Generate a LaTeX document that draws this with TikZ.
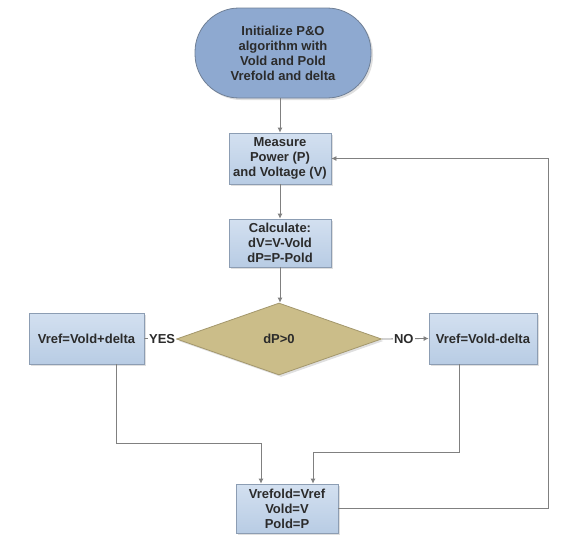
\documentclass[tikz,border=0pt]{standalone}
\usepackage{fontspec}
\setmainfont{Liberation Sans}
\usetikzlibrary{shapes.geometric,arrows.meta,shadows}
\definecolor{boxtop}{HTML}{D3E0F0}
\definecolor{boxbot}{HTML}{B8CCE4}
\definecolor{boxline}{HTML}{8C9DB3}
\definecolor{termfill}{HTML}{8EA9D0}
\definecolor{termline}{HTML}{6F7F95}
\definecolor{decfill}{HTML}{CBBD89}
\definecolor{decline}{HTML}{A3976C}
\definecolor{conn}{HTML}{808080}
\definecolor{txt}{HTML}{2B2B2B}
\tikzset{
  base/.style={font=\fontsize{13}{15}\selectfont\bfseries, text=txt, align=center, inner sep=2pt,
     drop shadow={shadow xshift=2pt, shadow yshift=-2pt, opacity=0.25}},
  procbox/.style={base, rectangle, draw=boxline, line width=0.8pt, top color=boxtop, bottom color=boxbot},
  termbox/.style={base, rectangle, rounded corners=44pt, draw=termline, line width=0.8pt, fill=termfill},
  decbox/.style={base, diamond, draw=decline, line width=0.8pt, fill=decfill, inner sep=0pt},
  arr/.style={draw=conn, line width=0.8pt, -{Latex[length=5pt,width=5pt]}},
  plain/.style={draw=conn, line width=0.8pt},
  lbl/.style={font=\fontsize{13}{15}\selectfont\bfseries, text=txt, fill=white, inner sep=1pt}
}
\begin{document}
\begin{tikzpicture}[x=1pt,y=-1pt]
\useasboundingbox (0,0) rectangle (579,546);
\node[termbox, minimum width=176pt, minimum height=90pt] (init) at (283,53)
  {Initialize P\&O\\algorithm with\\Vold and Pold\\Vrefold and delta};
\node[procbox, minimum width=102pt, minimum height=51pt] (meas) at (280,158.5)
  {Measure\\Power (P)\\and Voltage (V)};
\node[procbox, minimum width=102pt, minimum height=48pt] (calc) at (280,243)
  {Calculate:\\dV=V-Vold\\dP=P-Pold};
\node[decbox, minimum width=205pt, minimum height=72pt] (dec) at (279,339) {dP>0};
\node[procbox, minimum width=115pt, minimum height=51pt] (left) at (86.5,338.5) {Vref=Vold+delta};
\node[procbox, minimum width=108pt, minimum height=51pt] (right) at (483,338.5) {Vref=Vold-delta};
\node[procbox, minimum width=102pt, minimum height=49pt] (fin) at (287,508.5)
  {Vrefold=Vref\\Vold=V\\Pold=P};
\coordinate (fb) at (548,158.5);

\draw[arr] (meas.north |- init.south) -- (meas.north);
\draw[arr] (meas) -- (calc);
\draw[arr] (calc.south) -- (calc.south |- dec.north);
\draw[plain] (dec.west) -- node[lbl, pos=0.44] {YES} (left.east);
\draw[arr] (dec.east) -- node[lbl, pos=0.47] {NO} (right.west);
\draw[arr] ([xshift=29.5pt]left.south) -- ++(0,79) -| ([xshift=-26pt]fin.north);
\draw[arr] ([xshift=-24pt]right.south) -- ++(0,88) -| ([xshift=26pt]fin.north);
\draw[arr] (fin.east) -| (fb) -- (meas.east);
\end{tikzpicture}
\end{document}
